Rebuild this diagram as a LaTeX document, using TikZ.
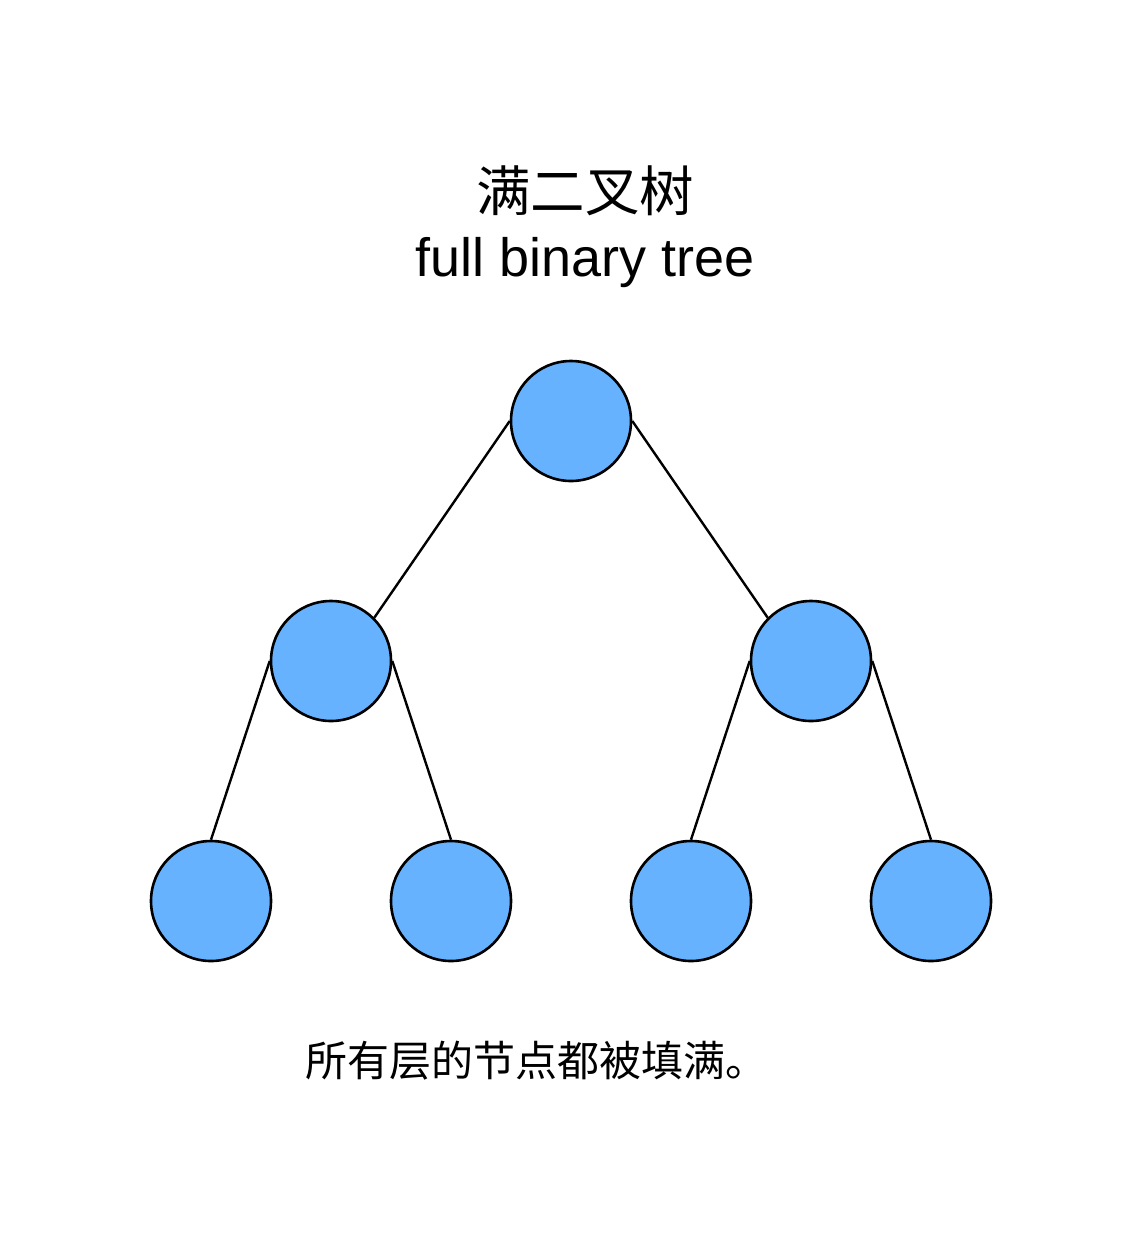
\documentclass[tikz,border=0pt]{standalone}
\usepackage{fontspec}
\setmainfont{Liberation Sans}
\newfontfamily\cjk{Noto Sans CJK SC}
\definecolor{nodeblue}{HTML}{66B2FF}
\begin{document}
\begin{tikzpicture}[x=1pt,y=-1pt,
  treenode/.style={circle,draw=black,fill=nodeblue,line width=2.6pt,minimum size=120pt,inner sep=0pt},
  edge/.style={draw=black,line width=2.4pt}]
\useasboundingbox (0,0) rectangle (1143,1254);
\node[anchor=base,font=\cjk\fontsize{54.5}{60}\selectfont,inner sep=0pt] (t1) at (585,211) {满二叉树};
\node[anchor=base,font=\fontsize{54}{60}\selectfont,inner sep=0pt] (t2) at (585,276) {full binary tree};
\node[treenode] (r) at (571,421) {};
\node[treenode] (a) at (331,661) {};
\node[treenode] (b) at (811,661) {};
\node[treenode] (c) at (211,901) {};
\node[treenode] (d) at (451,901) {};
\node[treenode] (e) at (691,901) {};
\node[treenode] (f) at (931,901) {};
\draw[edge] (r.west) -- (a.north east);
\draw[edge] (r.east) -- (b.north west);
\draw[edge] (a.west) -- (c.north);
\draw[edge] (a.east) -- (d.north);
\draw[edge] (b.west) -- (e.north);
\draw[edge] (b.east) -- (f.north);
\node[anchor=base west,font=\cjk\fontsize{42}{48}\selectfont,inner sep=0pt] (cap) at (305,1076) {所有层的节点都被填满。};
\end{tikzpicture}
\end{document}
